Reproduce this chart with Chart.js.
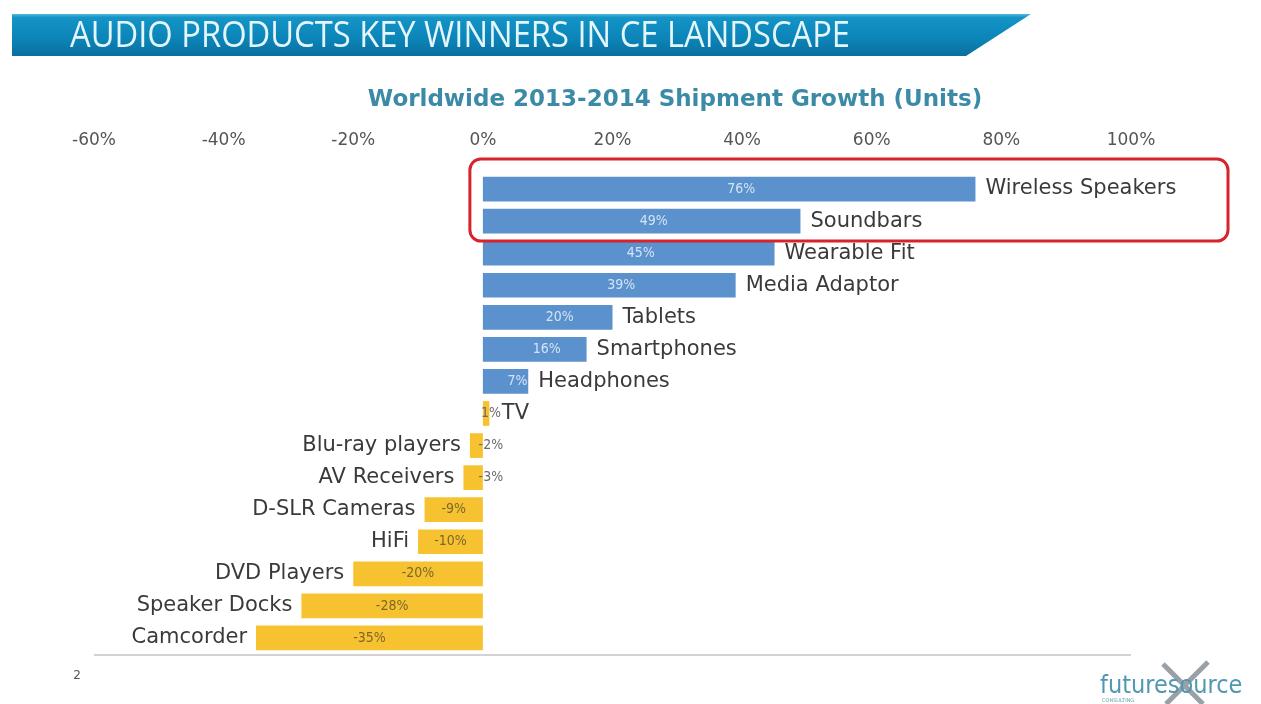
<!DOCTYPE html>
<html>
<head>
<meta charset="utf-8">
<title>Audio Products Key Winners in CE Landscape</title>
<script src="https://cdn.jsdelivr.net/npm/chart.js@4.4.1/dist/chart.umd.min.js"></script>
<style>
  html, body { margin: 0; padding: 0; background: #ffffff; }
  #wrap { position: relative; width: 1261px; height: 704px; }
  canvas { display: block; }
</style>
</head>
<body>
<div id="wrap"><canvas id="chart" width="1261" height="704"></canvas></div>
<script>
// Product categories, top to bottom
const categories = [
  'Wireless Speakers', 'Soundbars', 'Wearable Fit', 'Media Adaptor', 'Tablets',
  'Smartphones', 'Headphones', 'TV', 'Blu-ray players', 'AV Receivers',
  'D-SLR Cameras', 'HiFi', 'DVD Players', 'Speaker Docks', 'Camcorder'
];
// Worldwide 2013-2014 shipment growth, percent
const growth = [76, 49, 45, 39, 20, 16, 7, 1, -2, -3, -9, -10, -20, -28, -35];
// Axis tick values, percent
const tickValues = [-60, -40, -20, 0, 20, 40, 60, 80, 100];
// Categories boxed as key winners
const highlighted = ['Wireless Speakers', 'Soundbars'];

const titleText = 'AUDIO PRODUCTS KEY WINNERS IN CE LANDSCAPE';
const subtitleText = 'Worldwide 2013-2014 Shipment Growth (Units)';

const BLUE = '#5b91cd';
const YELLOW = '#f7c230';
const barColors = growth.map((v, i) => (i < 7 ? BLUE : YELLOW));

// Banner, subtitle, footer decorations
const pageDecor = {
  id: 'pageDecor',
  beforeDraw(chart) {
    const ctx = chart.ctx;
    ctx.save();
    ctx.fillStyle = '#ffffff';
    ctx.fillRect(0, 0, chart.width, chart.height);

    // title banner with slanted right end
    const g = ctx.createLinearGradient(0, 14, 0, 56);
    g.addColorStop(0, '#4fb9e0');
    g.addColorStop(0.08, '#1594c6');
    g.addColorStop(0.6, '#0b84b8');
    g.addColorStop(1, '#0a6f9e');
    ctx.beginPath();
    ctx.moveTo(12, 14);
    ctx.lineTo(1031, 14);
    ctx.lineTo(966, 56);
    ctx.lineTo(12, 56);
    ctx.closePath();
    ctx.fillStyle = g;
    ctx.fill();

    // banner title, condensed to its width
    ctx.font = '36px "Open Sans", "DejaVu Sans", sans-serif';
    const w = ctx.measureText(titleText).width;
    const sx = 780 / w;
    ctx.translate(70, 36);
    ctx.scale(sx, 1);
    ctx.textBaseline = 'middle';
    ctx.textAlign = 'left';
    ctx.fillStyle = '#e4f5fb';
    ctx.fillText(titleText, 0, 1);
    ctx.setTransform(1, 0, 0, 1, 0, 0);

    // subtitle
    ctx.font = 'bold 23px "DejaVu Sans", sans-serif';
    ctx.fillStyle = '#3b8aa6';
    ctx.textAlign = 'center';
    ctx.textBaseline = 'middle';
    ctx.fillText(subtitleText, 675, 100);

    // page number
    ctx.font = '12px "DejaVu Sans", sans-serif';
    ctx.fillStyle = '#555555';
    ctx.fillText('2', 77, 676);

    // logo
    ctx.strokeStyle = 'rgba(110,120,130,0.7)';
    ctx.lineWidth = 5;
    ctx.beginPath();
    ctx.moveTo(1163, 664); ctx.lineTo(1203, 704);
    ctx.moveTo(1208, 662); ctx.lineTo(1166, 704);
    ctx.stroke();
    ctx.font = '25px "DejaVu Sans Condensed", "DejaVu Sans", sans-serif';
    ctx.fillStyle = '#4f98b0';
    ctx.textAlign = 'left';
    ctx.fillText('futuresource', 1100, 686);
    ctx.font = '5px "DejaVu Sans", sans-serif';
    ctx.fillStyle = '#6a9fb0';
    ctx.fillText('CONSULTING', 1102, 701);
    ctx.restore();
  }
};

// Value and category labels at each bar, base line, highlight box
const barLabels = {
  id: 'barLabels',
  afterDatasetsDraw(chart) {
    const ctx = chart.ctx;
    const meta = chart.getDatasetMeta(0);
    const xs = chart.scales.x;
    const area = chart.chartArea;
    ctx.save();

    // base line under the bars
    ctx.strokeStyle = '#d2d2d2';
    ctx.lineWidth = 2;
    ctx.beginPath();
    ctx.moveTo(xs.getPixelForValue(-60), area.bottom + 1);
    ctx.lineTo(xs.getPixelForValue(100), area.bottom + 1);
    ctx.stroke();

    meta.data.forEach((bar, i) => {
      const v = growth[i];
      const zero = xs.getPixelForValue(0);
      const end = bar.x;
      const y = bar.y;
      const small = Math.abs(v) < 5;

      // value label
      ctx.font = '14px "DejaVu Sans Condensed", "DejaVu Sans", sans-serif';
      ctx.textBaseline = 'middle';
      ctx.textAlign = 'center';
      let valueRight = end;
      if (small) {
        ctx.fillStyle = '#6b6b6b';
        ctx.fillText(v + '%', zero + 8, y);
        valueRight = zero + 8 + ctx.measureText(v + '%').width / 2;
      } else {
        ctx.fillStyle = v > 0 ? '#d4e4f4' : '#7a6630';
        ctx.fillText(v + '%', (zero + end) / 2 + (v > 0 ? 12 : 0), y);
      }

      // category label
      ctx.font = '21px "DejaVu Sans", sans-serif';
      ctx.fillStyle = '#3a3a3a';
      if (v > 0) {
        ctx.textAlign = 'left';
        ctx.fillText(categories[i], (small ? valueRight + 1 : end + 10), y);
      } else {
        ctx.textAlign = 'right';
        ctx.fillText(categories[i], end - 9, y);
      }
    });

    // rounded box around the key winners
    const rows = highlighted.map(c => meta.data[categories.indexOf(c)]);
    const top = rows[0].y - 30;
    const bottom = rows[rows.length - 1].y + 20;
    const left = xs.getPixelForValue(0) - 13;
    const right = 1228;
    const r = 11;
    ctx.strokeStyle = '#d8232a';
    ctx.lineWidth = 3;
    ctx.beginPath();
    ctx.roundRect(left, top, right - left, bottom - top, r);
    ctx.stroke();
    ctx.restore();
  }
};

new Chart(document.getElementById('chart'), {
  type: 'bar',
  data: {
    labels: categories,
    datasets: [{
      data: growth,
      backgroundColor: barColors,
      borderWidth: 0,
      barPercentage: 0.77,
      categoryPercentage: 1.0
    }]
  },
  options: {
    indexAxis: 'y',
    responsive: false,
    animation: false,
    layout: { padding: { left: 94, right: 130, top: 120, bottom: 50 } },
    plugins: {
      legend: { display: false },
      tooltip: { enabled: false }
    },
    scales: {
      x: {
        position: 'top',
        min: -60,
        max: 100,
        afterBuildTicks(scale) {
          scale.ticks = tickValues.map(v => ({ value: v }));
        },
        afterFit(scale) { scale.height = 53; },
        grid: { display: false, drawTicks: false },
        border: { display: false },
        ticks: {
          padding: 22,
          color: '#555555',
          font: { family: '"DejaVu Sans", sans-serif', size: 17 },
          callback: v => v + '%'
        }
      },
      y: {
        display: false,
        grid: { display: false }
      }
    }
  },
  plugins: [pageDecor, barLabels]
});
</script>
</body>
</html>
